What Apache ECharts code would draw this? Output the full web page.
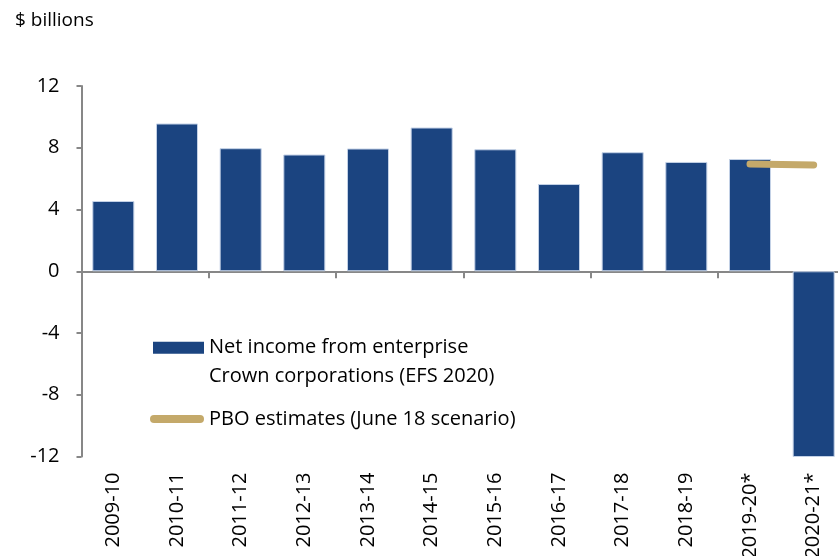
<!DOCTYPE html>
<html>
<head>
<meta charset="utf-8">
<script src="https://cdn.jsdelivr.net/npm/echarts@6/dist/echarts.min.js"></script>
<style>
html,body{margin:0;padding:0;background:#fff;}
#chart{width:838px;height:556px;}
</style>
</head>
<body>
<div id="chart"></div>
<script>
// Data
var categories = ['2009-10','2010-11','2011-12','2012-13','2013-14','2014-15','2015-16','2016-17','2017-18','2018-19','2019-20*','2020-21*'];
var netIncome = [4.55, 9.57, 7.97, 7.56, 7.95, 9.31, 7.90, 5.65, 7.71, 7.08, 7.27, -14.0];
var pboEstimates = [null, null, null, null, null, null, null, null, null, null, 6.95, 6.88];
var yTicks = {min: -12, max: 12, interval: 4};
var barName = 'Net income from enterprise\nCrown corporations (EFS 2020)';
var lineName = 'PBO estimates (June 18 scenario)';
var unitLabel = '$ billions';

var FONT = '"Open Sans", "Noto Sans", sans-serif';
var AXIS = '#878787';
var chart = echarts.init(document.getElementById('chart'), null, {renderer: 'canvas'});
chart.setOption({
  animation: false,
  backgroundColor: '#ffffff',
  textStyle: {fontFamily: FONT},
  title: {
    text: unitLabel, left: 10, top: 6,
    textStyle: {fontFamily: FONT, fontSize: 19, fontWeight: 'normal', color: '#000'}
  },
  grid: {left: 81.5, top: 86, width: 764, height: 370.5, containLabel: false, outerBoundsMode: 'none'},
  legend: [
    {
      data: [barName], orient: 'vertical', left: 153, top: 305, padding: 0,
      itemWidth: 51, itemHeight: 12, icon: 'rect', selectedMode: false,
      itemStyle: {borderWidth: 0},
      formatter: function (n) { return '\n' + n; },
      textStyle: {fontFamily: FONT, fontSize: 20, color: '#000', lineHeight: 28.5}
    },
    {
      data: [lineName], orient: 'vertical', left: 150, top: 405, padding: 0,
      itemWidth: 54, itemHeight: 8, selectedMode: false,
      icon: 'path://M4,0 L50,0 A4,4 0 0 1 50,8 L4,8 A4,4 0 0 1 4,0 Z',
      itemStyle: {color: '#C4A96A', borderWidth: 0},
      textStyle: {fontFamily: FONT, fontSize: 20, color: '#000', lineHeight: 28}
    }
  ],
  xAxis: [
    {
      type: 'category', data: categories, position: 'bottom',
      axisLine: {show: false, onZero: false}, axisTick: {show: false},
      axisLabel: {rotate: 90, margin: 16, fontFamily: FONT, fontSize: 20, color: '#000', interval: 0}
    },
    {
      type: 'category', data: categories, position: 'top',
      axisLine: {show: true, onZero: true, lineStyle: {color: AXIS, width: 2}},
      axisTick: {show: true, inside: true, length: 7, lineStyle: {color: AXIS, width: 2}},
      axisLabel: {show: false}
    }
  ],
  yAxis: {
    type: 'value', min: yTicks.min, max: yTicks.max, interval: yTicks.interval,
    axisLine: {show: true, lineStyle: {color: AXIS, width: 2}},
    axisTick: {show: true, length: 5, lineStyle: {color: AXIS, width: 2}},
    splitLine: {show: false},
    axisLabel: {margin: 22, fontFamily: FONT, fontSize: 20, color: '#000'}
  },
  series: [
    {
      name: barName, type: 'bar', data: netIncome, xAxisIndex: 0,
      barWidth: '66%', clip: true,
      itemStyle: {color: '#1B4480', borderColor: '#C3D1E6', borderWidth: 1}
    },
    {
      name: lineName, type: 'line', data: pboEstimates, xAxisIndex: 0,
      symbol: 'none', connectNulls: false,
      lineStyle: {color: '#C4A96A', width: 7, cap: 'round'},
      itemStyle: {color: '#C4A96A'}
    }
  ]
});
</script>
</body>
</html>
